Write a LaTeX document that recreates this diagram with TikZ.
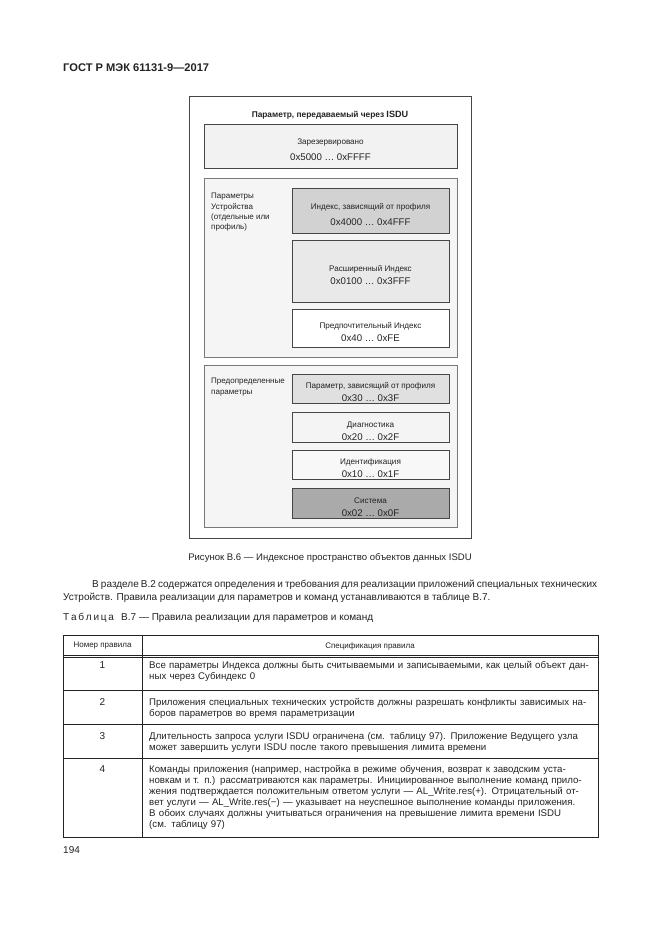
\documentclass[tikz,border=0pt]{standalone}
\usepackage{fontspec}
\setmainfont{Liberation Sans}
\usetikzlibrary{positioning,fit}
\definecolor{ink}{RGB}{35,35,35}
\definecolor{edge}{RGB}{70,70,70}
\definecolor{grpline}{RGB}{120,120,120}
\definecolor{grpfill}{RGB}{245,245,245}
\definecolor{resfill}{RGB}{242,242,242}
\definecolor{proffill}{RGB}{210,210,210}
\definecolor{extfill}{RGB}{233,233,233}
\definecolor{ppfill}{RGB}{224,224,224}
\definecolor{diagfill}{RGB}{244,244,244}
\definecolor{idfill}{RGB}{248,248,248}
\definecolor{sysfill}{RGB}{170,170,170}
\tikzset{
  frm/.style={draw=edge,line width=0.7pt},
  grp/.style={draw=grpline,fill=grpfill,inner sep=0pt,line width=0.7pt},
  cell/.style={draw=edge,inner sep=0pt,line width=0.8pt},
  lbl/.style={inner sep=0pt,align=center,text=ink,yshift=-3.5pt,
    font=\fontsize{7.3}{11.7}\selectfont},
  side/.style={anchor=north west,inner sep=0pt,align=left,text=ink,
    font=\fontsize{7.2}{9.3}\selectfont},
  ttl/.style={inner sep=0pt,font=\bfseries\fontsize{7.5}{9}\selectfont,text=ink},
  body/.style={inner sep=0pt,font=\fontsize{9}{10.5}\selectfont,text=ink},
  small/.style={inner sep=0pt,font=\fontsize{7.2}{8}\selectfont,text=ink},
  rowtxt/.style={anchor=base west,inner sep=0pt,align=left,text width=\rw,
    font=\fontsize{8.7}{9.9}\selectfont,text=ink},
  rule/.style={line width=0.8pt,draw=ink},
}
\newlength\rw \setlength\rw{397pt}
\newcommand{\hx}[1]{{\fontsize{8.7}{9}\selectfont #1}}
\newcommand{\jl}[1]{\makebox[\rw][s]{#1}\\}

\begin{document}
\begin{tikzpicture}[x=0.9pt,y=-0.9pt]
\useasboundingbox[fill=white] (0,0) rectangle (661,935);

% page head
\node[anchor=base west,inner sep=0pt,font=\bfseries\fontsize{10}{12}\selectfont,text=ink] (head) at (63,71) {ГОСТ Р МЭК 61131-9—2017};

% figure
\draw[frm] (189,96) rectangle (471,538);
\node[ttl] (title) at (330,115) {Параметр, передаваемый через {\fontsize{8.2}{9}\selectfont ISDU}};
\coordinate (r1) at (204,124); \coordinate (r2) at (457,168);
\node[cell,fill=resfill,fit=(r1)(r2)] (res) {};
\node[lbl] (reslbl) at (res.center) {Зарезервировано\\[2.2pt]\hx{0x5000 … 0xFFFF}};

\coordinate (d1) at (204,178); \coordinate (d2) at (457,357);
\node[grp,fit=(d1)(d2)] (devgrp) {};
\node[side] (devlbl) at (211,193) {Параметры\\Устройства\\(отдельные или\\профиль)};
\coordinate (p1) at (292,188); \coordinate (p2) at (449,233);
\node[cell,fill=proffill,fit=(p1)(p2)] (prof) {};
\node[lbl] (proflbl) at (prof.center) {Индекс, зависящий от профиля\\[3pt]\hx{0x4000 … 0x4FFF}};
\coordinate (e1) at (292,240); \coordinate (e2) at (449,302);
\node[cell,fill=extfill,fit=(e1)(e2)] (ext) {};
\node[lbl] (extlbl) at (ext.center) {Расширенный Индекс\\\hx{0x0100 … 0x3FFF}};
\coordinate (f1) at (292,309); \coordinate (f2) at (449,347);
\node[cell,fill=white,fit=(f1)(f2)] (pref) {};
\node[lbl] (preflbl) at (pref.center) {Предпочтительный Индекс\\\hx{0x40 … 0xFE}};

\coordinate (g1) at (204,365); \coordinate (g2) at (457,527);
\node[grp,fit=(g1)(g2)] (predef) {};
\node[side] (predlbl) at (211,378) {Предопределенные\\параметры};
\coordinate (q1) at (292,374); \coordinate (q2) at (449,403);
\node[cell,fill=ppfill,fit=(q1)(q2)] (pprof) {};
\node[lbl] (pproflbl) at (pprof.center) {Параметр, зависящий от профиля\\\hx{0x30 … 0x3F}};
\coordinate (t1) at (292,412); \coordinate (t2) at (449,442);
\node[cell,fill=diagfill,fit=(t1)(t2)] (diag) {};
\node[lbl] (diaglbl) at (diag.center) {Диагностика\\\hx{0x20 … 0x2F}};
\coordinate (i1) at (292,450); \coordinate (i2) at (449,479);
\node[cell,fill=idfill,fit=(i1)(i2)] (ident) {};
\node[lbl] (identlbl) at (ident.center) {Идентификация\\\hx{0x10 … 0x1F}};
\coordinate (s1) at (292,488); \coordinate (s2) at (449,518);
\node[cell,fill=sysfill,fit=(s1)(s2)] (sys) {};
\node[lbl] (syslbl) at (sys.center) {Система\\\hx{0x02 … 0x0F}};

\node[body,font=\fontsize{8.6}{10}\selectfont] (cap) at (330,558) {Рисунок В.6 — Индексное пространство объектов данных ISDU};

% text
\node[body,anchor=base west] (par1) at (92,587) {\makebox[454.5pt][s]{В разделе В.2 содержатся определения и требования для реализации приложений специальных технических}};
\node[body,anchor=base west] (par2) at (63,600) {Устройств. Правила реализации для параметров и команд устанавливаются в таблице В.7.};
\node[body,anchor=base west] (tcap) at (63,620) {Т\hspace{1.6pt}а\hspace{1.6pt}б\hspace{1.6pt}л\hspace{1.6pt}и\hspace{1.6pt}ц\hspace{1.6pt}а\hspace{4pt} В.7 — Правила реализации для параметров и команд};

% table
\draw[rule] (63,635) rectangle (598,837);
\draw[rule] (142,635) -- (142,837);
\draw[line width=0.5pt,ink] (63,655) -- (598,655);
\draw[line width=0.5pt,ink] (63,657.5) -- (598,657.5);
\draw[rule] (63,690) -- (598,690);
\draw[rule] (63,724) -- (598,724);
\draw[rule] (63,758) -- (598,758);
\node[small] (hno) at (102.5,646) {Номер правила};
\node[small] (hspec) at (370,646) {Спецификация правила};

\node[body,anchor=base] (n1) at (102.5,668.5) {1};
\node[rowtxt] (t1txt) at (149,668.5) {\jl{Все параметры Индекса должны быть считываемыми и записываемыми, как целый объект дан-}ных через Субиндекс 0};
\node[body,anchor=base] (n2) at (102.5,705.5) {2};
\node[rowtxt] (t2txt) at (149,705.5) {\jl{Приложения специальных технических устройств должны разрешать конфликты зависимых на-}боров параметров во время параметризации};
\node[body,anchor=base] (n3) at (102.5,739.5) {3};
\node[rowtxt] (t3txt) at (149,739.5) {\jl{Длительность запроса услуги ISDU ограничена (см. таблицу 97). Приложение Ведущего узла}может завершить услуги ISDU после такого превышения лимита времени};
\node[body,anchor=base] (n4) at (102.5,772.5) {4};
\node[rowtxt] (t4txt) at (149,772.5) {\jl{Команды приложения (например, настройка в режиме обучения, возврат к заводским уста-}\jl{новкам и т. п.) рассматриваются как параметры. Инициированное выполнение команд прило-}\jl{жения подтверждается положительным ответом услуги — AL\_Write.res(+). Отрицательный от-}\jl{вет услуги — AL\_Write.res(−) — указывает на неуспешное выполнение команды приложения.}\jl{В обоих случаях должны учитываться ограничения на превышение лимита времени ISDU}(см. таблицу 97)};

\node[body,anchor=base west] (pgno) at (63,853) {194};
\end{tikzpicture}
\end{document}
